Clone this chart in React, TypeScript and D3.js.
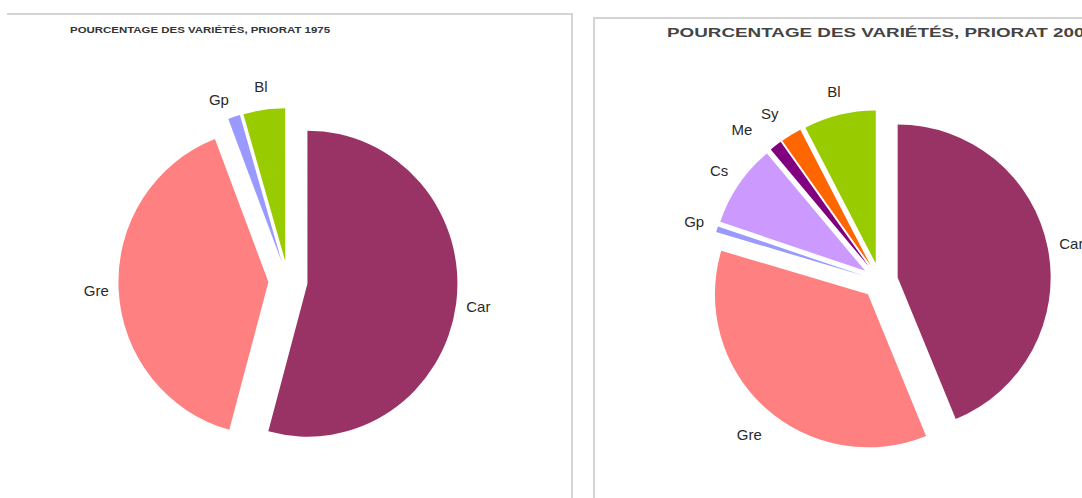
import React from 'react'
import * as d3 from 'd3'

// share of each grape variety (%)
const varieties1975 = ['Car', 'Gre', 'Gp', 'Bl']
const shares1975 = [54.2, 40.0, 1.3, 4.5]

const varieties2006 = ['Car', 'Gre', 'Gp', 'Cs', 'Me', 'Sy', 'Bl']
const shares2006 = [43.8, 35.8, 0.6, 8.7, 1.3, 2.2, 7.6]

const title1975 = 'POURCENTAGE DES VARIÉTÉS, PRIORAT 1975'
const title2006 = 'POURCENTAGE DES VARIÉTÉS, PRIORAT 2006'

const colors = {
  Car: '#993366',
  Gre: '#ff8080',
  Gp: '#9999ff',
  Cs: '#cc99ff',
  Me: '#800080',
  Sy: '#ff6600',
  Bl: '#99cc00'
}

// small label nudges where excel moved a label to avoid overlap
const nudge1975 = { Gp: [-8, 4] }
const nudge2006 = { Me: [-19, 3], Sy: [-9, -1], Gre: [0, 9] }

const font = 'Liberation Sans, Arial, sans-serif'

type PieProps = {
  names: string[]
  values: number[]
  cx: number
  cy: number
  r: number
  sy: number
  explode: number
  nudge: Record<string, number[]>
}

const Pie = ({ names, values, cx, cy, r, sy, explode, nudge }: PieProps) => {
  const pie = d3
    .pie<number>()
    .sort(null)
    .value((d) => d)
  const arcs = pie(values)
  const arc = d3.arc<d3.PieArcDatum<number>>().innerRadius(0).outerRadius(r)
  const labelR = r + 42

  return (
    <g transform={`translate(${cx}, ${cy})`}>
      <g transform={`scale(1, ${sy})`}>
        {arcs.map((a, i) => {
          const mid = (a.startAngle + a.endAngle) / 2
          const dx = explode * Math.sin(mid)
          const dy = -explode * Math.cos(mid)
          return (
            <path
              key={names[i]}
              d={arc(a) || ''}
              fill={colors[names[i]]}
              transform={`translate(${dx}, ${dy})`}
            />
          )
        })}
      </g>
      {arcs.map((a, i) => {
        const mid = (a.startAngle + a.endAngle) / 2
        const n = nudge[names[i]] || [0, 0]
        return (
          <text
            key={names[i]}
            x={labelR * Math.sin(mid) + n[0]}
            y={-labelR * Math.cos(mid) * sy + n[1]}
            dy="0.35em"
            textAnchor="middle"
            fontFamily={font}
            fontSize={15}
            fill="#2a2a2a"
          >
            {names[i]}
          </text>
        )
      })}
    </g>
  )
}

const App = () => {
  const width = 1082
  const height = 498
  const frame = '#d4d4d4'

  return (
    <svg
      width={width}
      height={height}
      style={{ position: 'absolute', left: 0, top: 0, background: '#fff' }}
    >
      <rect width={width} height={height} fill="#fff" />

      {/* panel frames */}
      <path d={`M7,14 H572 V${height}`} fill="none" stroke={frame} strokeWidth={2} />
      <path d={`M594,${height} V18 H${width}`} fill="none" stroke={frame} strokeWidth={2} />

      <text
        x={70}
        y={33}
        fontFamily={font}
        fontWeight="bold"
        fontSize={9.5}
        fill="#333"
        textLength={260}
        lengthAdjust="spacingAndGlyphs"
      >
        {title1975}
      </text>
      <text
        x={667}
        y={37}
        fontFamily={font}
        fontWeight="bold"
        fontSize={13}
        fill="#444"
        textLength={428}
        lengthAdjust="spacingAndGlyphs"
      >
        {title2006}
      </text>

      <Pie
        names={varieties1975}
        values={shares1975}
        cx={288}
        cy={281}
        r={150}
        sy={1.02}
        explode={19.6}
        nudge={nudge1975}
      />
      <Pie
        names={varieties2006}
        values={shares2006}
        cx={880}
        cy={281}
        r={153}
        sy={1}
        explode={18}
        nudge={nudge2006}
      />
    </svg>
  )
}

export default App
